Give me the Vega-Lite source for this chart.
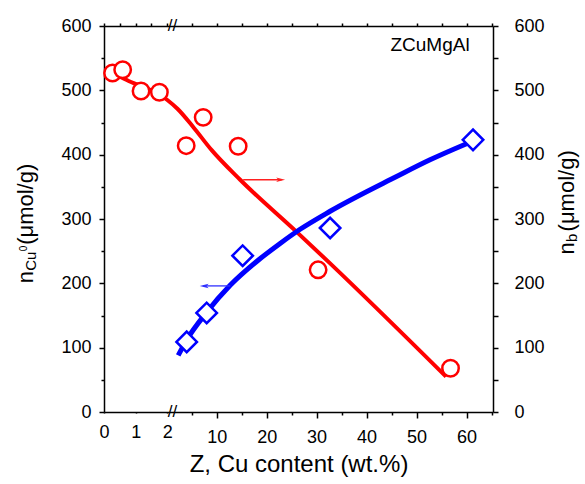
{
  "$schema": "https://vega.github.io/schema/vega-lite/v6.json",
  "width": 389,
  "height": 386,
  "autosize": {"type": "none"},
  "padding": {"left": 104, "top": 26, "right": 92, "bottom": 72},
  "background": "white",
  "config": {
    "font": "Liberation Sans",
    "view": {"stroke": null},
    "axis": {
      "domainColor": "black", "domainWidth": 1.5,
      "tickColor": "black", "tickWidth": 1.5,
      "labelColor": "black", "labelFontSize": 18, "labelFont": "Liberation Sans",
      "titleFont": "Liberation Sans", "titleColor": "black", "titleFontWeight": "normal",
      "grid": false, "labelFlush": false, "labelOverlap": false
    }
  },
  "datasets": {
    "red": [
      {"z": 0.27, "n": 527}, {"z": 0.59, "n": 532}, {"z": 1.17, "n": 499}, {"z": 1.75, "n": 497},
      {"z": 3.9, "n": 414}, {"z": 7.3, "n": 458}, {"z": 14.3, "n": 413}, {"z": 30.3, "n": 221}, {"z": 56.8, "n": 68}
    ],
    "blue": [
      {"z": 4.0, "n": 109}, {"z": 8.0, "n": 154}, {"z": 15.2, "n": 243}, {"z": 32.7, "n": 286}, {"z": 61.3, "n": 423}
    ],
    "redfit": [
      {"z": 0.25, "n": 529}, {"z": 0.72, "n": 516}, {"z": 1.24, "n": 505}, {"z": 1.77, "n": 493}, {"z": 2.0, "n": 485},
      {"z": 2.2, "n": 471}, {"z": 5.3, "n": 443}, {"z": 9.0, "n": 407}, {"z": 14.7, "n": 361}, {"z": 26.0, "n": 280},
      {"z": 32.7, "n": 231}, {"z": 55.9, "n": 55}
    ],
    "bluefit": [
      {"z": 2.3, "n": 88}, {"z": 4.0, "n": 112}, {"z": 8.0, "n": 155}, {"z": 12.7, "n": 197}, {"z": 18.0, "n": 234},
      {"z": 22.7, "n": 262}, {"z": 26.7, "n": 284}, {"z": 32.7, "n": 312}, {"z": 46, "n": 366}, {"z": 52.7, "n": 392}, {"z": 60, "n": 417}
    ],
    "breaks": [{"z": 2.1, "n": 0}, {"z": 2.1, "n": 600}]
  },
  "resolve": {"axis": {"x": "independent", "y": "independent"}},
  "layer": [
    {
      "data": {"name": "redfit"},
      "mark": {"type": "line", "color": "#ff0000", "strokeWidth": 4, "interpolate": "monotone"},
      "encoding": {
        "x": {"field": "z", "type": "quantitative",
          "scale": {"domain": [0, 2, 2.2, 65.3], "range": [0, 63.3, 73.7, 389], "nice": false, "zero": false},
          "axis": {"orient": "bottom", "values": [0, 0.5, 1, 1.5, 2, 5, 10, 15, 20, 25, 30, 35, 40, 45, 50, 55, 60, 65],
            "labelExpr": "(datum.value <= 2 ? datum.value % 1 === 0 : datum.value % 10 === 0) ? '' + datum.value : ''",
            "tickSize": {"condition": {"test": "datum.value <= 2 ? datum.value % 1 === 0 : datum.value % 10 === 0", "value": 6}, "value": 3},
            "labelPadding": 10, "title": "Z, Cu content (wt.%)", "titleFontSize": 24, "titlePadding": 6}},
        "y": {"field": "n", "type": "quantitative",
          "scale": {"domain": [0, 600], "nice": false, "zero": false},
          "axis": {"orient": "left", "values": [0, 50, 100, 150, 200, 250, 300, 350, 400, 450, 500, 550, 600],
            "labelExpr": "datum.value % 100 === 0 ? '' + datum.value : ''",
            "tickSize": {"condition": {"test": "datum.value % 100 === 0", "value": 5}, "value": 3},
            "labelPadding": 8, "title": null}}
      }
    },
    {
      "data": {"name": "bluefit"},
      "mark": {"type": "line", "color": "#0000ff", "strokeWidth": 5, "interpolate": "monotone"},
      "encoding": {
        "x": {"field": "z", "type": "quantitative", "scale": {"domain": [0, 2, 2.2, 65.3], "range": [0, 63.3, 73.7, 389], "nice": false, "zero": false}, "axis": null},
        "y": {"field": "n", "type": "quantitative", "scale": {"domain": [0, 600], "nice": false, "zero": false}, "axis": null}
      }
    },
    {
      "data": {"name": "red"},
      "mark": {"type": "point", "shape": "circle", "filled": true, "fill": "white", "stroke": "#ff0000", "strokeWidth": 2.5, "size": 270, "opacity": 1},
      "encoding": {
        "x": {"field": "z", "type": "quantitative",
          "scale": {"domain": [0, 2, 2.2, 65.3], "range": [0, 63.3, 73.7, 389], "nice": false, "zero": false},
          "axis": {"orient": "top", "values": [0, 0.5, 1, 1.5, 2, 5, 10, 15, 20, 25, 30, 35, 40, 45, 50, 55, 60, 65],
            "labels": false, "tickSize": 3, "title": null}},
        "y": {"field": "n", "type": "quantitative",
          "scale": {"domain": [0, 600], "nice": false, "zero": false},
          "axis": {"orient": "right", "values": [0, 50, 100, 150, 200, 250, 300, 350, 400, 450, 500, 550, 600],
            "labelExpr": "datum.value % 100 === 0 ? '' + datum.value : ''",
            "tickSize": 5, "labelPadding": 16, "title": null}}
      }
    },
    {
      "data": {"name": "blue"},
      "mark": {"type": "point", "shape": "diamond", "filled": true, "fill": "white", "stroke": "#0000ff", "strokeWidth": 2.5, "size": 420, "opacity": 1},
      "encoding": {
        "x": {"field": "z", "type": "quantitative", "scale": {"domain": [0, 2, 2.2, 65.3], "range": [0, 63.3, 73.7, 389], "nice": false, "zero": false}, "axis": null},
        "y": {"field": "n", "type": "quantitative", "scale": {"domain": [0, 600], "nice": false, "zero": false}, "axis": null}
      }
    },
    {
      "data": {"values": [{"z": 15.3, "z2": 23.0, "n": 361}]},
      "mark": {"type": "rule", "color": "#ff2020", "strokeWidth": 1.3},
      "encoding": {
        "x": {"field": "z", "type": "quantitative", "scale": {"domain": [0, 2, 2.2, 65.3], "range": [0, 63.3, 73.7, 389], "nice": false, "zero": false}, "axis": null},
        "x2": {"field": "z2"},
        "y": {"field": "n", "type": "quantitative", "scale": {"domain": [0, 600], "nice": false, "zero": false}, "axis": null}
      }
    },
    {
      "data": {"values": [{"z": 22.8, "n": 361}]},
      "mark": {"type": "point", "shape": "M -1 -0.5 L 1 0 L -1 0.5 L -0.5 0 Z", "filled": true, "color": "#ff2020", "size": 80, "opacity": 1},
      "encoding": {
        "x": {"field": "z", "type": "quantitative", "scale": {"domain": [0, 2, 2.2, 65.3], "range": [0, 63.3, 73.7, 389], "nice": false, "zero": false}, "axis": null},
        "y": {"field": "n", "type": "quantitative", "scale": {"domain": [0, 600], "nice": false, "zero": false}, "axis": null}
      }
    },
    {
      "data": {"values": [{"z": 12.7, "z2": 7.3, "n": 196}]},
      "mark": {"type": "rule", "color": "#3030ff", "strokeWidth": 1.3},
      "encoding": {
        "x": {"field": "z", "type": "quantitative", "scale": {"domain": [0, 2, 2.2, 65.3], "range": [0, 63.3, 73.7, 389], "nice": false, "zero": false}, "axis": null},
        "x2": {"field": "z2"},
        "y": {"field": "n", "type": "quantitative", "scale": {"domain": [0, 600], "nice": false, "zero": false}, "axis": null}
      }
    },
    {
      "data": {"values": [{"z": 7.5, "n": 196}]},
      "mark": {"type": "point", "shape": "M 1 -0.5 L -1 0 L 1 0.5 L 0.5 0 Z", "filled": true, "color": "#3030ff", "size": 80, "opacity": 1},
      "encoding": {
        "x": {"field": "z", "type": "quantitative", "scale": {"domain": [0, 2, 2.2, 65.3], "range": [0, 63.3, 73.7, 389], "nice": false, "zero": false}, "axis": null},
        "y": {"field": "n", "type": "quantitative", "scale": {"domain": [0, 600], "nice": false, "zero": false}, "axis": null}
      }
    },
    {
      "data": {"values": [{"z": 52.7, "n": 570, "label": "ZCuMgAl"}]},
      "mark": {"type": "text", "fontSize": 19, "color": "black", "align": "center", "baseline": "middle"},
      "encoding": {
        "x": {"field": "z", "type": "quantitative", "scale": {"domain": [0, 2, 2.2, 65.3], "range": [0, 63.3, 73.7, 389], "nice": false, "zero": false}, "axis": null},
        "y": {"field": "n", "type": "quantitative", "scale": {"domain": [0, 600], "nice": false, "zero": false}, "axis": null},
        "text": {"field": "label"}
      }
    },
    {
      "data": {"name": "breaks"},
      "mark": {"type": "text", "fontSize": 17, "color": "black", "align": "center", "baseline": "middle", "text": "//"},
      "encoding": {
        "x": {"field": "z", "type": "quantitative", "scale": {"domain": [0, 2, 2.2, 65.3], "range": [0, 63.3, 73.7, 389], "nice": false, "zero": false}, "axis": null},
        "y": {"field": "n", "type": "quantitative", "scale": {"domain": [0, 600], "nice": false, "zero": false}, "axis": null}
      }
    },
    {
      "data": {"values": [
        {"z": -2.25, "n": 200, "t": "n", "s": 22, "dx": 0, "dy": 0},
        {"z": -2.25, "n": 200, "t": "Cu", "s": 15, "dx": 12.5, "dy": 3},
        {"z": -2.25, "n": 200, "t": "0", "s": 10, "dx": 32, "dy": -6},
        {"z": -2.25, "n": 200, "t": "(μmol/g)", "s": 22, "dx": 38.5, "dy": 0},
        {"z": 81.6, "n": 245, "t": "n", "s": 22, "dx": 0, "dy": 0},
        {"z": 81.6, "n": 245, "t": "b", "s": 15, "dx": 12.5, "dy": 3},
        {"z": 81.6, "n": 245, "t": "(μmol/g)", "s": 22, "dx": 23, "dy": 0}
      ]},
      "mark": {"type": "text", "color": "black", "align": "left", "baseline": "alphabetic", "angle": 270,
        "fontSize": {"expr": "datum.s"}, "dx": {"expr": "datum.dx"}, "dy": {"expr": "datum.dy"}},
      "encoding": {
        "x": {"field": "z", "type": "quantitative", "scale": {"domain": [0, 2, 2.2, 65.3], "range": [0, 63.3, 73.7, 389], "nice": false, "zero": false}, "axis": null},
        "y": {"field": "n", "type": "quantitative", "scale": {"domain": [0, 600], "nice": false, "zero": false}, "axis": null},
        "text": {"field": "t"}
      }
    }
  ]
}
